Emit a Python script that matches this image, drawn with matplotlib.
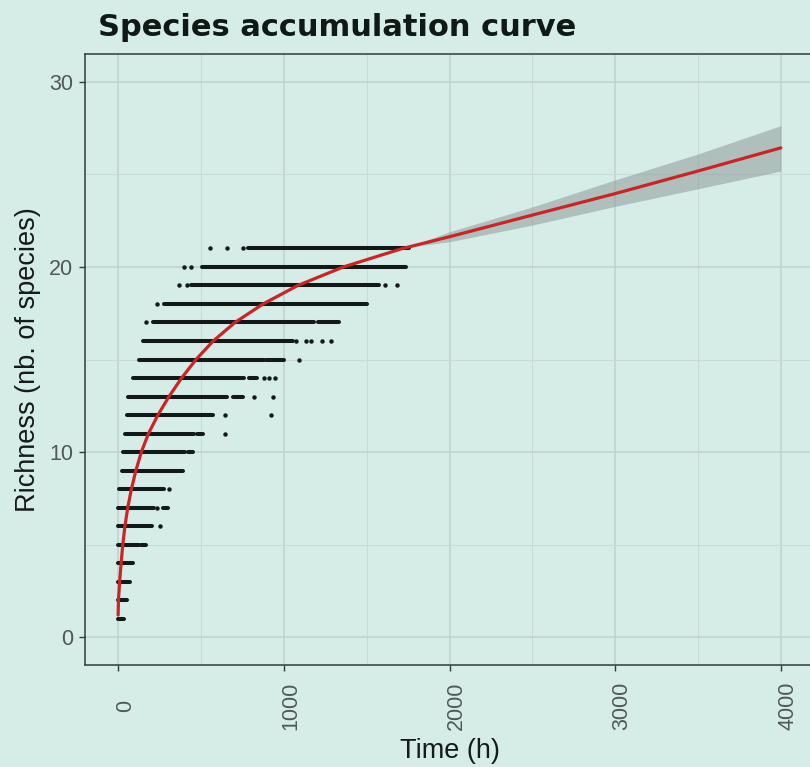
import matplotlib
matplotlib.use("Agg")
import matplotlib.pyplot as plt
import matplotlib.transforms as mtransforms

# ---------------- data ----------------
richness_levels = list(range(1, 22))

# dense runs of observations at each richness level: (start time, end time)
runs = {
    1: [(0, 36)],
    2: [(0, 56)],
    3: [(0, 71)],
    4: [(0, 91)],
    5: [(0, 127), (137, 171)],
    6: [(0, 207)],
    7: [(0, 218), (272, 298)],
    8: [(6, 274)],
    9: [(22, 344), (352, 389)],
    10: [(30, 405), (419, 453)],
    11: [(42, 459), (473, 514)],
    12: [(56, 574)],
    13: [(62, 655), (695, 755)],
    14: [(91, 761), (788, 836)],
    15: [(123, 882), (892, 1003)],
    16: [(153, 1057)],
    17: [(211, 1184), (1204, 1335)],
    18: [(278, 1502)],
    19: [(439, 1577)],
    20: [(504, 1738)],
    21: [(781, 1758)],
}

# isolated observations at each richness level (time)
isolated = {
    6: [252],
    7: [234],
    8: [308],
    11: [647],
    12: [643, 922],
    13: [822, 933],
    14: [878, 912, 949],
    15: [1094],
    16: [1073, 1134, 1164, 1230, 1285],
    17: [167],
    18: [234],
    19: [365, 415, 1613, 1684],
    20: [395, 439],
    21: [554, 657, 752],
}

# fitted accumulation curve
curve_time = [0, 2, 9, 18, 28, 41, 58, 80, 107, 140, 183, 240, 307, 383, 470,
              574, 705, 875, 1085, 1360, 1718, 1750, 2000, 2500, 3000, 3500, 4000]
curve_rich = [1.2, 2, 3, 4, 5, 6, 7, 8, 9, 10, 11, 12, 13, 14, 15,
              16, 17, 18, 19, 20, 21, 21.07, 21.63, 22.8, 23.96, 25.18, 26.43]

# confidence band of the extrapolation
band_time = [1750, 2000, 2500, 3000, 3500, 4000]
band_low = [21.07, 21.36, 22.26, 23.27, 24.22, 25.18]
band_high = [21.07, 21.9, 23.24, 24.7, 26.1, 27.63]

x_ticks = [0, 1000, 2000, 3000, 4000]
y_ticks = [0, 10, 20, 30]

title = "Species accumulation curve"
x_label = "Time (h)"
y_label = "Richness (nb. of species)"

# ---------------- figure ----------------
BG = "#d6ece7"
W, H = 810, 767
fig = plt.figure(figsize=(W / 100, H / 100), dpi=100, facecolor=BG)

left, right, top, bottom = 85, 814, 54, 665
ax = fig.add_axes([left / W, 1 - bottom / H, (right - left) / W, (bottom - top) / H])
ax.set_facecolor("none")

ax.set_xlim(-200, 4200)
ax.set_ylim(-1.5, 31.5)

# grid
ax.set_xticks(x_ticks)
ax.set_yticks(y_ticks)
ax.set_xticks([500, 1500, 2500, 3500], minor=True)
ax.set_yticks([5, 15, 25], minor=True)
ax.grid(which="major", color="#bfd2ce", linewidth=1.1)
ax.grid(which="minor", color="#c8dbd7", linewidth=0.8)
ax.set_axisbelow(True)
ax.tick_params(which="minor", length=0)

# observations
dot_color = "#111a18"
for r in richness_levels:
    for (a, b) in runs.get(r, []):
        ax.plot([a, b], [r, r], color=dot_color, linewidth=2.9,
                solid_capstyle="round", zorder=3)
    pts = isolated.get(r, [])
    if pts:
        ax.plot(pts, [r] * len(pts), "o", color=dot_color, markersize=3.2,
                markeredgewidth=0, zorder=3)

# band + curve
ax.fill_between(band_time, band_low, band_high, color="#8d9b99", alpha=0.55,
                linewidth=0, zorder=4)
ax.plot(curve_time, curve_rich, color="#cc2424", linewidth=2.3, zorder=5,
        solid_joinstyle="round", solid_capstyle="round")

# spines / ticks
for s in ax.spines.values():
    s.set_color("#2d3d3a")
    s.set_linewidth(1.1)

tick_font = dict(family=["Liberation Sans", "DejaVu Sans"], size=15.5)
ax.tick_params(which="major", length=4.5, width=1.0, color="#2d3d3a",
               labelcolor="#505858")
ax.tick_params(axis="y", pad=4)
ax.set_yticklabels([str(v) for v in y_ticks], fontdict=tick_font)
ax.set_xticklabels([str(v) for v in x_ticks], fontdict=tick_font,
                   rotation=90, va="center", ha="center")
ax.tick_params(axis="x", pad=25)
offset = mtransforms.ScaledTranslation(7 / 100, 0, fig.dpi_scale_trans)
for lab in ax.get_xticklabels():
    lab.set_transform(lab.get_transform() + offset)

# labels
fig.text(450 / W, 1 - 751 / H, x_label, ha="center", va="center",
         fontsize=19.5, color="#151b1a", family=["Liberation Sans", "DejaVu Sans"])
fig.text(28 / W, 1 - 360 / H, y_label, ha="center", va="center", rotation=90,
         fontsize=19.5, color="#151b1a", family=["Liberation Sans", "DejaVu Sans"])

fig.text(98 / W, 1 - 36 / H, title, ha="left", va="baseline",
         fontsize=22, fontweight="bold", color="#0f1a17",
         family=["DejaVu Sans"])

fig.savefig("out.png", dpi=100, facecolor=BG)
